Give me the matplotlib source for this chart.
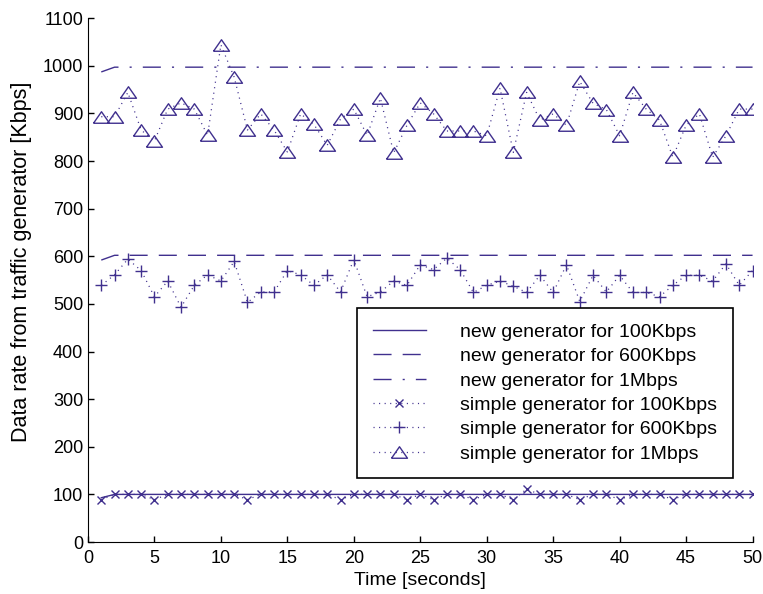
import numpy as np
import matplotlib
matplotlib.use('Agg')
import matplotlib.pyplot as plt

plt.rcParams['font.family'] = ['Liberation Sans', 'DejaVu Sans']
plt.rcParams['lines.scale_dashes'] = False

# time axis (seconds)
t = list(range(1, 51))

# new generator, flat lines
new_100 = [93] + [100] * 49
new_600 = [592] + [602] * 49
new_1m = [987] + [997] * 49

# simple generator, measured points
simple_100 = [89, 100, 100, 100, 89, 100, 100, 100, 100, 100,
              100, 89, 100, 100, 100, 100, 100, 100, 89, 100,
              100, 100, 100, 89, 100, 89, 100, 100, 89, 100,
              100, 89, 111, 100, 100, 100, 89, 100, 100, 89,
              100, 100, 100, 89, 100, 100, 100, 100, 100, 100]

simple_600 = [539, 561, 594, 570, 515, 548, 493, 539, 561, 548,
              589, 503, 525, 525, 570, 561, 539, 561, 525, 593,
              515, 525, 548, 539, 582, 572, 596, 572, 524, 539,
              548, 537, 524, 560, 524, 582, 505, 560, 525, 560,
              524, 524, 515, 539, 560, 560, 548, 584, 539, 570]

simple_1m = [893, 893, 944, 865, 842, 909, 922, 909, 854, 1044,
             976, 865, 899, 865, 819, 899, 877, 833, 888, 909,
             854, 932, 817, 875, 922, 899, 863, 863, 863, 853,
             953, 818, 944, 886, 899, 875, 967, 921, 908, 853,
             944, 909, 886, 808, 875, 899, 808, 853, 909, 909]

col = '#40308e'
dots = (0, (0.8, 3.2))
tri = [(-1, -0.72), (1, -0.72), (0, 0.72), (-1, -0.72)]  # flat triangle

fig = plt.figure(figsize=(7.63, 5.94), dpi=100)
ax = fig.add_axes([0.1153, 0.0875, 0.871, 0.882])

ax.plot(t, new_100, color=col, lw=1.0, label='new generator for 100Kbps')
ax.plot(t, new_600, color=col, lw=1.0, linestyle=(0, (13, 8)),
        label='new generator for 600Kbps')
ax.plot(t, new_1m, color=col, lw=1.0, linestyle=(0, (13, 8, 1.5, 8)),
        label='new generator for 1Mbps')
ax.plot(t, simple_100, color=col, lw=0.9, linestyle=dots, marker='x',
        ms=6, mew=1.0, label='simple generator for 100Kbps')
ax.plot(t, simple_600, color=col, lw=0.9, linestyle=dots, marker='+',
        ms=9, mew=1.0, label='simple generator for 600Kbps')
ax.plot(t, simple_1m, color=col, lw=0.9, linestyle=dots, marker=tri,
        ms=11.5, mew=1.0, mfc='none', label='simple generator for 1Mbps')

ax.set_xlim(0, 50)
ax.set_ylim(0, 1100)
ax.set_xticks(range(0, 51, 5))
ax.set_yticks(range(0, 1101, 100))
ax.spines['top'].set_visible(False)
ax.spines['right'].set_visible(False)
ax.tick_params(direction='in', length=4, width=1, labelsize=13)
ax.tick_params(axis='x', pad=6)
ax.set_xlabel('Time [seconds]', fontsize=14, labelpad=3)
ax.set_ylabel('Data rate from traffic generator [Kbps]', fontsize=15.5)
ax.yaxis.set_label_coords(-0.084, 0.534)

leg = ax.legend(loc='lower left', bbox_to_anchor=(0.405, 0.122),
                fontsize=14, frameon=True, fancybox=False, handlelength=2.75,
                handletextpad=1.75, borderpad=0.8, labelspacing=0.345,
                borderaxespad=0)
leg.get_frame().set_edgecolor('black')
leg.get_frame().set_linewidth(1.2)
leg.get_frame().set_alpha(1)

fig.savefig('out.png', dpi=100)
